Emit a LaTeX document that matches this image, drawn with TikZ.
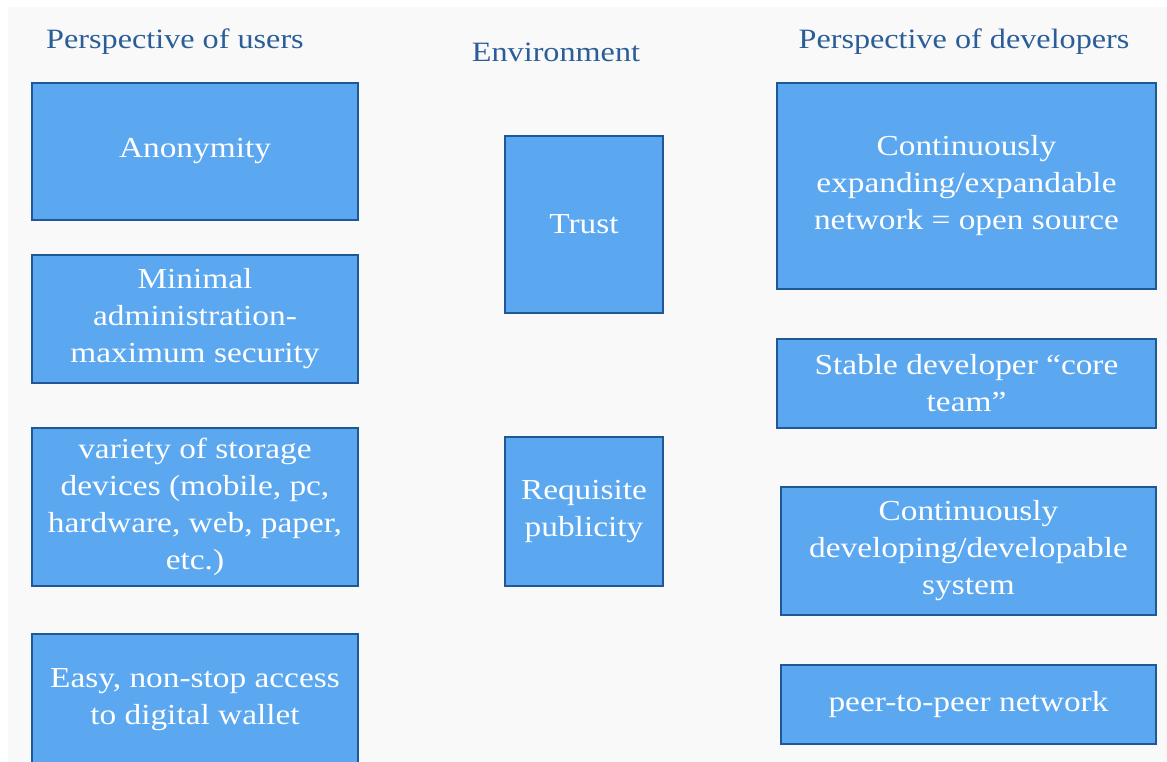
\documentclass[tikz,border=0pt]{standalone}
\usepackage{fontspec}
\setmainfont[FakeStretch=1.15]{Liberation Serif}
\usetikzlibrary{positioning}
\definecolor{boxblue}{HTML}{5BA8F0}
\definecolor{edgeblue}{HTML}{1F5797}
\definecolor{headblue}{HTML}{2A5E98}
\definecolor{paper}{HTML}{F9F9F9}

\begin{document}
\begin{tikzpicture}[
    x=1pt, y=-1pt,
    head/.style={font=\fontsize{28}{32}\selectfont, text=headblue},
    block/.style={draw=edgeblue, line width=2.8pt, fill=boxblue, text=white, align=center,
        font=\fontsize{29}{37}\selectfont, inner sep=0pt},
    userbox/.style={block, minimum width=326pt},
    envbox/.style={block, minimum width=158pt},
    devbox/.style={block, minimum width=377pt},
]
    \clip (0,0) rectangle (1167,762);
    \fill[white] (0,0) rectangle (1167,762);
    \fill[paper] (8,7) rectangle (1167,762);

    % =====================================================================
    % Column titles
    % =====================================================================
    \node[head] (tusers) at (175, 42) {Perspective of users};
    \node[head] (tenv) at (556, 52) {Environment};
    \node[head] (tdevs) at (964, 42) {Perspective of developers};

    % =====================================================================
    % Users
    % =====================================================================
    \node[userbox, minimum height=137pt] (anon) at (195, 151.5) {Anonymity};
    \node[userbox, minimum height=128pt] (admin) at (195, 319) {Minimal\\administration-\\maximum security};
    \node[userbox, minimum height=158pt] (storage) at (195, 507) {variety of storage\\devices (mobile, pc,\\hardware, web, paper,\\etc.)};
    \node[userbox, minimum height=132pt] (wallet) at (195, 700) {Easy, non-stop access\\to digital wallet};

    % =====================================================================
    % Environment
    % =====================================================================
    \node[envbox, minimum height=177pt] (trust) at (584, 224.5) {Trust};
    \node[envbox, minimum height=149pt] (publicity) at (584, 511.5) {Requisite\\publicity};

    % =====================================================================
    % Developers
    % =====================================================================
    \node[devbox, minimum width=379pt, minimum height=206pt] (network) at (966.5, 186) {Continuously\\expanding/expandable\\network = open source};
    \node[devbox, minimum width=379pt, minimum height=89pt] (core) at (966.5, 383.5) {Stable developer “core\\team”};
    \node[devbox, minimum width=375pt, minimum height=128pt] (system) at (968.5, 551) {Continuously\\developing/developable\\system};
    \node[devbox, minimum width=375pt, minimum height=79pt] (ptp) at (968.5, 704.5) {peer-to-peer network};

\end{tikzpicture}
\end{document}
